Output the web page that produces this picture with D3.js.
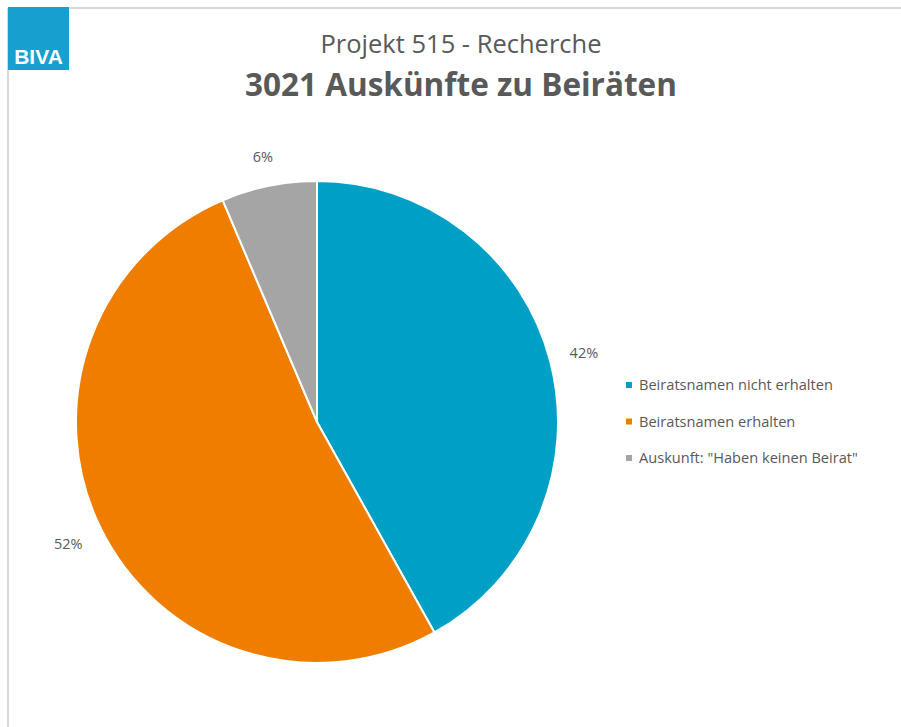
<!DOCTYPE html>
<html>
<head>
<meta charset="utf-8">
<script src="https://cdn.jsdelivr.net/npm/d3@7"></script>
<style>
  body { margin: 0; background: #fff; }
  svg text { font-family: "Open Sans", "Liberation Sans", sans-serif; }
</style>
</head>
<body>
<div id="chart"></div>
<script>
const width = 901;
const height = 727;

// data
const categories = ["Beiratsnamen nicht erhalten", "Beiratsnamen erhalten", "Auskunft: \"Haben keinen Beirat\""];
const shares = [41.9, 51.7, 6.4];
const colors = ["#00a0c6", "#ee7d00", "#a5a5a5"];
const subtitle = "Projekt 515 - Recherche";
const title = "3021 Auskünfte zu Beiräten";

const data = categories.map((c, i) => ({ name: c, value: shares[i], color: colors[i] }));

const svg = d3.select("#chart").append("svg")
    .attr("width", width)
    .attr("height", height);

// frame lines
svg.append("line").attr("x1", 8).attr("x2", width).attr("y1", 8).attr("y2", 8)
    .attr("stroke", "#d9d9d9").attr("stroke-width", 2);
svg.append("line").attr("x1", 8).attr("x2", 8).attr("y1", 8).attr("y2", height)
    .attr("stroke", "#d9d9d9").attr("stroke-width", 2);

// logo
svg.append("rect").attr("x", 8).attr("y", 7).attr("width", 61).attr("height", 63).attr("fill", "#17a0cf");
svg.append("text").attr("x", 38.5).attr("y", 64)
    .attr("text-anchor", "middle")
    .attr("fill", "#fff")
    .attr("font-weight", "bold")
    .attr("font-size", 21)
    .style("font-family", "'Liberation Sans', Arial, sans-serif")
    .text("BIVA");

// titles
svg.append("text").attr("x", 461).attr("y", 53)
    .attr("text-anchor", "middle")
    .attr("fill", "#595959")
    .attr("font-size", 25.5)
    .text(subtitle);
svg.append("text").attr("x", 461).attr("y", 96)
    .attr("text-anchor", "middle")
    .attr("fill", "#595959")
    .attr("font-weight", "bold")
    .attr("font-size", 31.5)
    .text(title);

// pie
const cx = 317, cy = 422, radius = 241;
const pie = d3.pie().sort(null).value(d => d.value);
const arc = d3.arc().innerRadius(0).outerRadius(radius);
const total = d3.sum(shares);

const g = svg.append("g").attr("transform", `translate(${cx},${cy})`);

g.selectAll("path")
    .data(pie(data))
    .enter().append("path")
    .attr("d", arc)
    .attr("fill", d => d.data.color)
    .attr("stroke", "#fff")
    .attr("stroke-width", 2);

// labels sit outside the slice end, like Excel's "outside end"
const gap = 20;
const labels = g.selectAll("text.lbl")
    .data(pie(data))
    .enter().append("text")
    .attr("class", "lbl")
    .attr("text-anchor", "middle")
    .attr("dy", "0.35em")
    .attr("fill", "#595959")
    .attr("font-size", 14.5)
    .text(d => Math.round(d.data.value / total * 100) + "%");

labels.each(function(d) {
    const box = this.getBBox();
    const a = (d.startAngle + d.endAngle) / 2;
    const s = Math.abs(Math.sin(a)), c = Math.abs(Math.cos(a));
    const t = Math.min(s > 0.001 ? box.width / 2 / s : 1e9, c > 0.001 ? box.height / 2 / c : 1e9);
    const r = radius + gap + t;
    d3.select(this).attr("transform", `translate(${r * Math.sin(a)},${-r * Math.cos(a)})`);
});

// legend
const legend = svg.append("g").attr("transform", "translate(626,385)");
const item = legend.selectAll("g")
    .data(data)
    .enter().append("g")
    .attr("transform", (d, i) => `translate(0,${i * 36.5})`);
item.append("rect")
    .attr("x", 0).attr("y", -3)
    .attr("width", 6).attr("height", 6)
    .attr("fill", d => d.color);
item.append("text")
    .attr("x", 13).attr("y", 0)
    .attr("dy", "0.35em")
    .attr("fill", "#595959")
    .attr("font-size", 14.6)
    .text(d => d.name);
</script>
</body>
</html>
